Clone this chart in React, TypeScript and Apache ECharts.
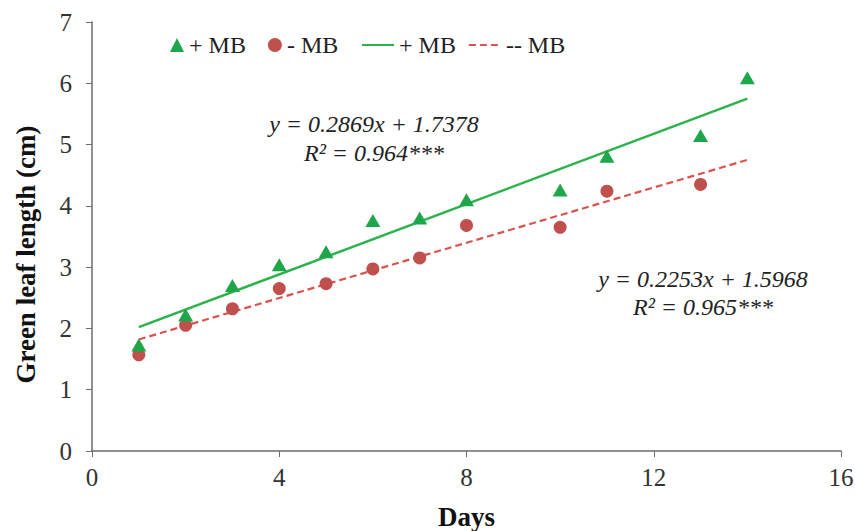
import React, { useEffect, useRef } from "react";
import * as echarts from "echarts";

const days = [1, 2, 3, 4, 5, 6, 7, 8, 10, 11, 13, 14];
const plusMB = [1.73, 2.22, 2.7, 3.04, 3.25, 3.76, 3.8, 4.1, 4.26, 4.81, 5.15, 6.09];
const minusDays = [1, 2, 3, 4, 5, 6, 7, 8, 10, 11, 13];
const minusMB = [1.57, 2.05, 2.32, 2.65, 2.73, 2.97, 3.15, 3.68, 3.65, 4.24, 4.35];
const trendX = [1, 14];
const plusTrend = [2.02, 5.75];
const minusTrend = [1.82, 4.75];
const xTicks = [0, 4, 8, 12, 16];
const legendLabels: Record<string, string> = {
  sPlus: "+ MB",
  sMinus: "- MB",
  lPlus: "+ MB",
  lMinus: "-- MB",
};

const FONT = "Liberation Serif";
const GREEN = "#1ea64b";
const GREEN_LINE = "#2bb34a";
const RED = "#c0504d";
const RED_LINE = "#d9534f";

const annot = (x: number, y: number, text: string) => ({
  type: "text",
  x,
  y,
  style: {
    text,
    fontFamily: FONT,
    fontStyle: "italic",
    fontSize: 24,
    fill: "#222",
    align: "center",
    verticalAlign: "middle",
  },
});

export default function App() {
  const ref = useRef<HTMLDivElement>(null);
  useEffect(() => {
    if (!ref.current) return;
    const chart = echarts.init(ref.current, undefined, { renderer: "svg" });
    const legendText = { fontFamily: FONT, fontSize: 24, color: "#222" };
    chart.setOption({
      animation: false,
      backgroundColor: "#ffffff",
      textStyle: { fontFamily: FONT },
      grid: {
        left: 92,
        right: 14,
        top: 22,
        bottom: 80,
        containLabel: false,
        outerBoundsMode: "none",
      },
      legend: [
        {
          top: 28,
          left: 165,
          itemGap: 22,
          itemWidth: 14,
          itemHeight: 14,
          textStyle: legendText,
          formatter: (n: string) => legendLabels[n] ?? n,
          data: [
            { name: "sPlus", icon: "triangle", itemStyle: { color: GREEN, opacity: 1 } },
            { name: "sMinus", icon: "circle", itemStyle: { color: RED, opacity: 1 } },
          ],
        },
        {
          top: 28,
          left: 356,
          itemGap: 12,
          itemWidth: 32,
          itemHeight: 14,
          textStyle: legendText,
          formatter: (n: string) => legendLabels[n] ?? n,
          data: [
            { name: "lPlus", itemStyle: { opacity: 0 } },
            { name: "lMinus", itemStyle: { opacity: 0 } },
          ],
        },
      ],
      xAxis: {
        type: "value",
        min: 0,
        max: 16,
        interval: 4,
        name: "Days",
        nameLocation: "middle",
        nameGap: 52,
        nameTextStyle: { fontFamily: FONT, fontSize: 27, fontWeight: "bold", color: "#111" },
        axisLine: { show: true, lineStyle: { color: "#6b6b6b", width: 1.5 } },
        axisTick: { show: true, inside: false, length: 6, lineStyle: { color: "#6b6b6b" } },
        splitLine: { show: false },
        axisLabel: {
          margin: 14,
          fontFamily: FONT,
          fontSize: 25,
          color: "#333",
          formatter: (v: number) => (xTicks.includes(v) ? String(v) : ""),
        },
      },
      yAxis: {
        type: "value",
        min: 0,
        max: 7,
        interval: 1,
        name: "Green leaf length (cm)",
        nameLocation: "middle",
        nameGap: 53,
        nameTextStyle: {
          fontFamily: FONT,
          fontSize: 27,
          fontWeight: "bold",
          color: "#111",
          padding: [0, 36, 0, 0],
        },
        axisLine: { show: true, lineStyle: { color: "#6b6b6b", width: 1.5 } },
        axisTick: { show: true, inside: false, length: 6, lineStyle: { color: "#6b6b6b" } },
        splitLine: { show: false },
        axisLabel: { margin: 20, fontFamily: FONT, fontSize: 25, color: "#333" },
      },
      series: [
        {
          name: "sPlus",
          type: "scatter",
          symbol: "triangle",
          symbolSize: [15, 13],
          itemStyle: { color: GREEN, opacity: 1 },
          data: days.map((d, i) => [d, plusMB[i]]),
          z: 5,
        },
        {
          name: "sMinus",
          type: "scatter",
          symbol: "circle",
          symbolSize: 13,
          itemStyle: { color: RED, opacity: 1 },
          data: minusDays.map((d, i) => [d, minusMB[i]]),
          z: 4,
        },
        {
          name: "lPlus",
          type: "line",
          symbol: "none",
          showSymbol: false,
          lineStyle: { color: GREEN_LINE, width: 2.5 },
          itemStyle: { color: GREEN_LINE },
          data: trendX.map((d, i) => [d, plusTrend[i]]),
          z: 3,
        },
        {
          name: "lMinus",
          type: "line",
          symbol: "none",
          showSymbol: false,
          lineStyle: { color: RED_LINE, width: 2.2, type: [7, 4] },
          itemStyle: { color: RED_LINE },
          data: trendX.map((d, i) => [d, minusTrend[i]]),
          z: 3,
        },
      ],
      graphic: [
        annot(374, 124, "y = 0.2869x + 1.7378"),
        annot(374, 153, "R² = 0.964***"),
        annot(703, 279, "y = 0.2253x + 1.5968"),
        annot(703, 307, "R² = 0.965***"),
      ],
    });
    return () => chart.dispose();
  }, []);
  return <div ref={ref} style={{ width: 855, height: 531, position: "absolute", left: 0, top: 0 }} />;
}
